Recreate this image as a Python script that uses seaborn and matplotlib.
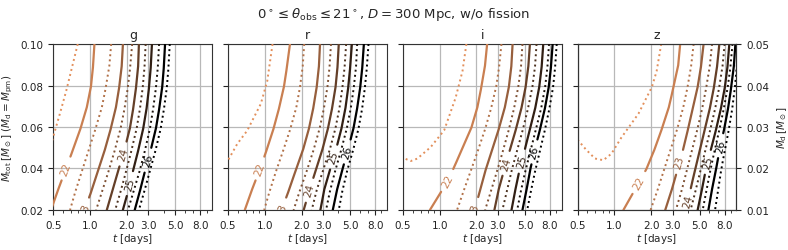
import numpy as np
import pandas as pd
import matplotlib
matplotlib.use("Agg")
import matplotlib.pyplot as plt
import matplotlib.ticker as mticker
import seaborn as sns

# ---------------- data ----------------
BANDS = ["g", "r", "i", "z"]
M_GRID = [0.10, 0.09, 0.08, 0.07, 0.06, 0.05, 0.04, 0.03, 0.02]
SOLID_LEVELS = [22, 23, 24, 25, 26]
DOTTED_LEVELS = [22.5, 23.5, 24.5, 25.5, 26.5]
FAINT_LEVEL = 21.5
X_TICKS = [0.5, 1.0, 2.0, 3.0, 5.0, 8.0]
Y_TICKS = [0.02, 0.04, 0.06, 0.08, 0.10]
YR_TICKS = [0.01, 0.02, 0.03, 0.04, 0.05]

# t [days] of each contour at the M_GRID rows
G_SOLID = [[1.085, 1.06, 1.02, 0.945, 0.843, 0.734, 0.635, 0.549, 0.478],
           [1.857, 1.82, 1.74, 1.635, 1.49, 1.337, 1.178, 1.04, 0.898],
           [2.51, 2.48, 2.39, 2.27, 2.13, 1.93, 1.72, 1.535, 1.37],
           [3.21, 3.15, 3.05, 2.92, 2.74, 2.51, 2.27, 2.07, 1.855],
           [4.11, 4.03, 3.91, 3.71, 3.48, 3.17, 2.85, 2.58, 2.32]]
G_DOTTED = [[1.488, 1.442, 1.354, 1.255, 1.12, 0.987, 0.87, 0.767, 0.685],
            [2.21, 2.14, 2.05, 1.93, 1.79, 1.615, 1.44, 1.27, 1.12],
            [2.85, 2.80, 2.71, 2.58, 2.42, 2.21, 2.0, 1.80, 1.605],
            [3.67, 3.60, 3.48, 3.31, 3.11, 2.85, 2.58, 2.30, 2.04],
            [4.49, 4.40, 4.27, 4.06, 3.81, 3.48, 3.13, 2.81, 2.51]]
G_FAINT_T = [0.792, 0.72, 0.655, 0.589, 0.526, 0.47]
G_FAINT_M = [0.10, 0.09, 0.08, 0.07, 0.06, 0.05]
G_LABEL_M = [0.040, 0.0202, 0.047, 0.0327, 0.044]

R_SOLID = [[1.606, 1.526, 1.44, 1.32, 1.19, 1.05, 0.915, 0.787, 0.685],
           [2.83, 2.78, 2.67, 2.51, 2.315, 2.08, 1.81, 1.585, 1.37],
           [4.03, 3.95, 3.81, 3.58, 3.31, 2.99, 2.64, 2.33, 2.08],
           [5.16, 5.02, 4.84, 4.60, 4.27, 3.86, 3.44, 3.07, 2.85],
           [6.47, 6.31, 6.07, 5.74, 5.35, 4.84, 4.34, 3.91, 3.60]]
R_DOTTED = [[2.10, 2.05, 1.95, 1.82, 1.636, 1.44, 1.255, 1.106, 0.987],
            [3.48, 3.40, 3.27, 3.07, 2.83, 2.54, 2.24, 1.95, 1.72],
            [4.63, 4.52, 4.34, 4.11, 3.81, 3.44, 3.03, 2.67, 2.42],
            [5.70, 5.60, 5.38, 5.09, 4.72, 4.27, 3.81, 3.44, 3.17],
            [7.06, 6.88, 6.63, 6.31, 5.89, 5.35, 4.77, 4.34, 4.03]]
R_FAINT_T = [1.156, 1.05, 0.927, 0.72, 0.596, 0.509, 0.48]
R_FAINT_M = [0.10, 0.0825, 0.0712, 0.0584, 0.052, 0.0447, 0.0430]
R_LABEL_M = [0.040, 0.0202, 0.0295, 0.0456, 0.048]

I_SOLID = [[2.45, 2.36, 2.21, 2.05, 1.83, 1.545, 1.30, 1.06, 0.833],
           [3.96, 3.88, 3.71, 3.44, 3.09, 2.73, 2.40, 2.16, 1.93],
           [5.49, 5.35, 5.09, 4.72, 4.27, 3.81, 3.40, 3.05, 2.81],
           [7.06, 6.88, 6.58, 6.12, 5.55, 5.03, 4.54, 4.18, 3.88],
           [8.43, 8.2, 7.87, 7.35, 6.72, 6.07, 5.55, 5.16, 4.77]]
I_DOTTED = [[3.21, 3.09, 2.92, 2.67, 2.39, 2.10, 1.83, 1.59, 1.39],
            [4.77, 4.66, 4.43, 4.11, 3.74, 3.36, 3.0, 2.66, 2.36],
            [6.22, 6.07, 5.78, 5.35, 4.87, 4.37, 3.93, 3.58, 3.27],
            [7.87, 7.67, 7.35, 6.85, 6.22, 5.63, 5.09, 4.66, 4.32],
            [9.1, 8.87, 8.54, 8.0, 7.38, 6.72, 6.12, 5.63, 5.22]]
I_FAINT_T = [1.657, 1.545, 1.36, 1.09, 0.849, 0.659, 0.581, 0.496, 0.47]
I_FAINT_M = [0.10, 0.0873, 0.0745, 0.0584, 0.0504, 0.0448, 0.0436, 0.0452, 0.0458]
I_LABEL_M = [0.0343, 0.0202, 0.0424, 0.0436, 0.048]

Z_SOLID = [[3.46, 3.34, 3.07, 2.81, 2.48, 2.16, 1.84, 1.48, 1.186],
           [5.38, 5.15, 4.84, 4.43, 4.05, 3.69, 3.31, 2.96, 2.61],
           [7.24, 6.97, 6.58, 6.11, 5.56, 5.06, 4.60, 4.21, 3.81],
           [8.74, 8.48, 8.08, 7.53, 6.89, 6.23, 5.63, 5.22, 4.81],
           [9.8, 9.55, 9.1, 8.6, 8.0, 7.33, 6.82, 6.31, 5.89]]
Z_DOTTED = [[4.46, 4.27, 4.0, 3.69, 3.31, 2.92, 2.58, 2.27, 1.98],
            [6.31, 6.07, 5.70, 5.29, 4.84, 4.37, 3.96, 3.58, 3.19],
            [8.0, 7.72, 7.27, 6.76, 6.18, 5.63, 5.12, 4.66, 4.21],
            [9.28, 8.97, 8.53, 7.95, 7.33, 6.70, 6.15, 5.70, 5.29],
            [10.45, 10.1, 9.75, 9.3, 8.74, 8.1, 7.53, 7.09, 6.68]]
Z_FAINT_T = [2.42, 2.23, 2.03, 1.575, 1.149, 0.95, 0.812, 0.694, 0.592, 0.506, 0.48]
Z_FAINT_M = [0.10, 0.0873, 0.0793, 0.0664, 0.0552, 0.0472, 0.044, 0.0448, 0.0488, 0.0536, 0.0545]
Z_LABEL_M = [0.0333, 0.043, 0.0245, 0.043, 0.051]

PANELS = {
    "g": (G_SOLID, G_DOTTED, G_FAINT_T, G_FAINT_M, G_LABEL_M),
    "r": (R_SOLID, R_DOTTED, R_FAINT_T, R_FAINT_M, R_LABEL_M),
    "i": (I_SOLID, I_DOTTED, I_FAINT_T, I_FAINT_M, I_LABEL_M),
    "z": (Z_SOLID, Z_DOTTED, Z_FAINT_T, Z_FAINT_M, Z_LABEL_M),
}

# ---------------- style ----------------
sns.set_style("ticks")
plt.rcParams.update({
    "font.family": ["DejaVu Sans"],
    "font.size": 7.5,
    "axes.labelsize": 7.5,
    "xtick.labelsize": 7.5,
    "ytick.labelsize": 7.5,
    "axes.titlesize": 9,
    "axes.edgecolor": "#333333",
    "xtick.color": "#222222",
    "ytick.color": "#222222",
})

FS_LABEL = 7.5
DPI = 100


def level_color(level):
    x = np.clip(0.64 - 0.16 * (level - 22), 0, 1)
    return plt.cm.copper(x)


def draw_line(ax, t, m, color, ls, lw, label=None, label_m=None):
    pts = ax.transData.transform(np.column_stack([t, m]))
    dense = []
    for a, b in zip(pts[:-1], pts[1:]):
        s = np.linspace(0, 1, 40, endpoint=False)
        dense.append(a + (b - a) * s[:, None])
    dense.append(pts[-1:])
    dense = np.vstack(dense)
    keep = np.ones(len(dense), bool)
    if label is not None:
        yl = ax.transData.transform((1.0, label_m))[1]
        idx = int(np.argmin(np.abs(dense[:, 1] - yl)))
        seg = np.hypot(*np.diff(dense, axis=0).T)
        arc = np.concatenate([[0], np.cumsum(seg)])
        tw = len(label) * 0.636 * FS_LABEL * DPI / 72.0
        half = tw / 2 + 6
        keep = np.abs(arc - arc[idx]) > half
        i0 = int(np.argmin(np.abs(arc - (arc[idx] - 8))))
        i1 = int(np.argmin(np.abs(arc - (arc[idx] + 8))))
        if i1 == i0:
            i0 = max(0, i0 - 5)
        dx, dy = dense[i1] - dense[i0]
        ang = np.degrees(np.arctan2(dy, dx))
        if ang > 90:
            ang -= 180
        if ang < -90:
            ang += 180
        cx, cy = ax.transData.inverted().transform(dense[idx])
        ax.text(cx, cy, label, rotation=ang, rotation_mode="anchor",
                ha="center", va="center", color=color, fontsize=FS_LABEL,
                clip_on=True, zorder=5)
    data = ax.transData.inverted().transform(dense)
    runs = []
    cur = []
    for k, ok in enumerate(keep):
        if ok:
            cur.append(k)
        elif cur:
            runs.append(cur)
            cur = []
    if cur:
        runs.append(cur)
    for r in runs:
        if len(r) < 2:
            continue
        df = pd.DataFrame({"t": data[r, 0], "M": data[r, 1]})
        sns.lineplot(data=df, x="t", y="M", sort=False, estimator=None, ax=ax,
                     color=color, linestyle=ls, linewidth=lw, zorder=3)


fig = plt.figure(figsize=(7.88, 2.51), dpi=DPI)
axes = fig.subplots(1, 4, sharey=True)
fig.subplots_adjust(left=0.0677, right=0.9346, top=0.8207, bottom=0.1594, wspace=0.1)

for ax, band in zip(axes, BANDS):
    ax.set_xscale("log")
    ax.set_xlim(0.5, 10)
    ax.set_ylim(0.02, 0.10)
    ax.set_xticks(X_TICKS)
    ax.xaxis.set_major_formatter(mticker.FormatStrFormatter("%.1f"))
    ax.xaxis.set_minor_locator(mticker.LogLocator(subs=np.arange(2, 10)))
    ax.xaxis.set_minor_formatter(mticker.NullFormatter())
    ax.set_yticks(Y_TICKS)
    ax.yaxis.set_major_formatter(mticker.FormatStrFormatter("%.2f"))
    ax.grid(True, which="major", color="#b8b8b8", linewidth=0.9, zorder=0)
    ax.set_axisbelow(True)
    ax.set_title(band, pad=4)

for ax, band in zip(axes, BANDS):
    solid, dotted, ft, fm, lab_m = PANELS[band]
    draw_line(ax, ft, fm, level_color(FAINT_LEVEL), ":", 1.4)
    for lev, tv in zip(DOTTED_LEVELS, dotted):
        draw_line(ax, tv, M_GRID, level_color(lev), ":", 1.4)
    for lev, tv, lm in zip(SOLID_LEVELS, solid, lab_m):
        draw_line(ax, tv, M_GRID, level_color(lev), "-", 1.6,
                  label=str(lev), label_m=lm)
    ax.set_xlabel(r"$t$ [days]", labelpad=1)
    ax.set_ylabel("")

axes[0].set_ylabel(r"$M_{\rm tot}\,[M_\odot]$ ($M_{\rm d}=M_{\rm pm}$)")
for ax in axes[1:]:
    ax.tick_params(axis="y", labelleft=False)

ax2 = axes[-1].twinx()
ax2.set_ylim(0.01, 0.05)
ax2.set_yticks(YR_TICKS)
ax2.yaxis.set_major_formatter(mticker.FormatStrFormatter("%.2f"))
ax2.set_ylabel(r"$M_{\rm d}\,[M_\odot]$")

fig.suptitle(r"$0^\circ \leq \theta_{\rm obs} \leq 21^\circ$, $D = 300$ Mpc, w/o fission",
             y=0.975, fontsize=9.5)

fig.savefig("out.png", dpi=DPI)
